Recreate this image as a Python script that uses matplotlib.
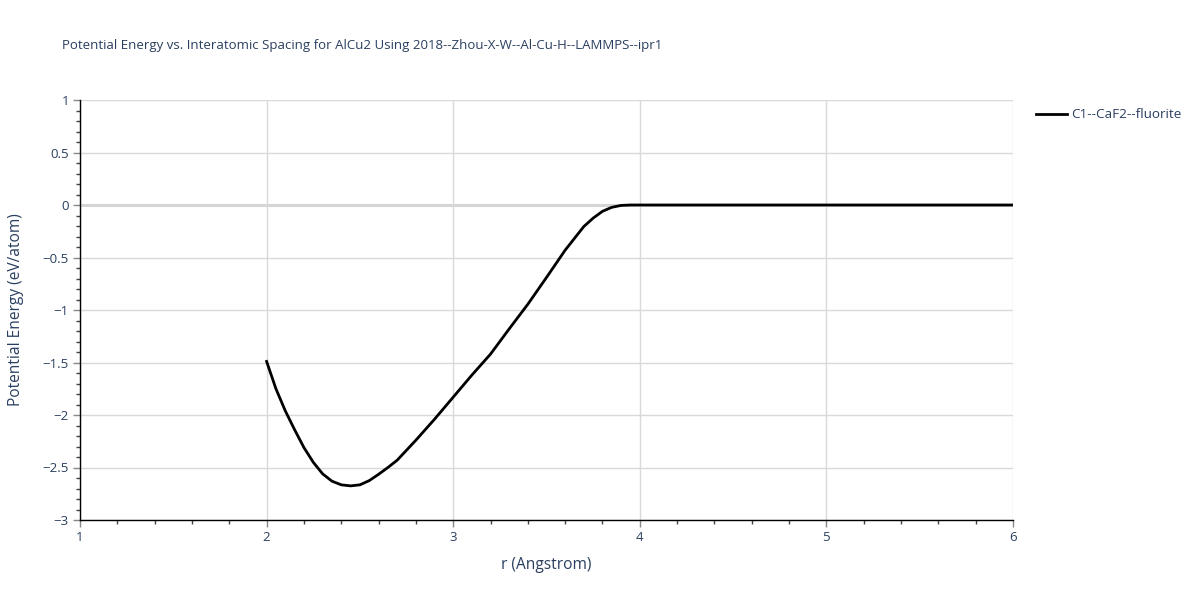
import matplotlib
matplotlib.use("Agg")
import matplotlib.pyplot as plt
from matplotlib.ticker import MultipleLocator, FuncFormatter

r_vals = [2.00, 2.05, 2.10, 2.15, 2.20, 2.25, 2.30, 2.35, 2.40, 2.45, 2.50,
          2.55, 2.60, 2.65, 2.70, 2.80, 2.90, 3.00, 3.10, 3.20, 3.30, 3.40,
          3.50, 3.60, 3.70, 3.75, 3.80, 3.85, 3.90, 3.95, 4.00, 4.50, 5.00,
          5.50, 6.00]
energy = [-1.49, -1.75, -1.96, -2.14, -2.31, -2.45, -2.56, -2.63, -2.665,
          -2.675, -2.665, -2.625, -2.565, -2.50, -2.43, -2.24, -2.04, -1.83,
          -1.62, -1.42, -1.18, -0.945, -0.69, -0.43, -0.205, -0.125, -0.06,
          -0.022, -0.004, 0.0, 0.0, 0.0, 0.0, 0.0, 0.0]
series_name = "C1--CaF2--fluorite"
title = "Potential Energy vs. Interatomic Spacing for AlCu2 Using 2018--Zhou-X-W--Al-Cu-H--LAMMPS--ipr1"
xlabel = "r (Angstrom)"
ylabel = "Potential Energy (eV/atom)"

txt = "#2a3f5f"
plt.rcParams['font.family'] = ['Open Sans', 'DejaVu Sans']

fig = plt.figure(figsize=(12, 6), dpi=100)
ax = fig.add_axes([80/1200, 1-520/600, (1013-80)/1200, 420/600])

ax.plot(r_vals, energy, color="black", lw=2, label=series_name, zorder=3)
ax.set_xlim(1, 6)
ax.set_ylim(-3, 1)

ax.xaxis.set_major_locator(MultipleLocator(1))
ax.xaxis.set_minor_locator(MultipleLocator(0.2))
ax.yaxis.set_major_locator(MultipleLocator(0.5))
ax.yaxis.set_minor_locator(MultipleLocator(0.1))
fmt = FuncFormatter(lambda v, p: ("%g" % v).replace("-", "\u2212"))
ax.xaxis.set_major_formatter(fmt)
ax.yaxis.set_major_formatter(fmt)

ax.grid(True, which="major", color="#d9d9d9", lw=1, zorder=0)
ax.axhline(0, color="#cccccc", lw=2, zorder=1)
for s in ["top", "right"]:
    ax.spines[s].set_visible(False)
for s in ["left", "bottom"]:
    ax.spines[s].set_color("black")
    ax.spines[s].set_linewidth(1)
    ax.spines[s].set_zorder(4)

ax.tick_params(which="major", direction="out", length=5, width=1, color="#888888",
               labelcolor=txt, labelsize=9.5, pad=3)
ax.tick_params(which="minor", direction="out", length=3, width=1, color="#444444")

ax.set_xlabel(xlabel, color=txt, fontsize=11.2, labelpad=9)
ax.set_ylabel(ylabel, color=txt, fontsize=11.2, labelpad=13)
fig.text(62/1200, 1-45/600, title, color=txt, fontsize=9.55, va="center", ha="left")

leg = fig.legend(loc="center left", bbox_to_anchor=(1031/1200, 1-115/600), frameon=False,
                 fontsize=9.7, handlelength=2.3, handletextpad=0.3, borderaxespad=0)
for t in leg.get_texts():
    t.set_color(txt)

fig.savefig("out.png", dpi=100)
